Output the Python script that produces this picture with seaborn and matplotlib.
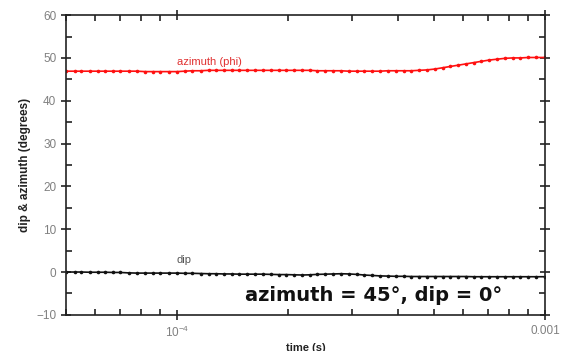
import matplotlib
matplotlib.use("Agg")
import matplotlib.pyplot as plt
import matplotlib.ticker as mticker
import seaborn as sns
import pandas as pd

time_s = [5.0e-5, 5.3e-5, 5.5e-5, 5.8e-5, 6.1e-5, 6.4e-5, 6.7e-5, 7.0e-5, 7.4e-5, 7.8e-5,
          8.2e-5, 8.6e-5, 9.0e-5, 9.5e-5,
          1.00e-4, 1.05e-4, 1.10e-4, 1.16e-4, 1.22e-4, 1.28e-4, 1.34e-4, 1.41e-4, 1.48e-4, 1.55e-4,
          1.63e-4, 1.71e-4, 1.80e-4, 1.89e-4, 1.98e-4, 2.08e-4, 2.19e-4, 2.30e-4, 2.41e-4, 2.53e-4,
          2.66e-4, 2.79e-4, 2.93e-4, 3.08e-4, 3.23e-4, 3.39e-4, 3.56e-4, 3.74e-4, 3.93e-4, 4.13e-4,
          4.33e-4, 4.55e-4, 4.78e-4, 5.02e-4, 5.27e-4, 5.53e-4, 5.81e-4, 6.10e-4, 6.40e-4, 6.72e-4,
          7.06e-4, 7.41e-4, 7.78e-4, 8.17e-4, 8.58e-4, 9.01e-4, 9.46e-4, 1.0e-3]

azimuth = [46.9, 46.9, 46.9, 46.9, 46.9, 46.9, 46.9, 46.9, 46.9, 46.9,
           46.8, 46.8, 46.8, 46.8,
           46.8, 46.9, 47.0, 47.0, 47.1, 47.1, 47.1, 47.1, 47.1, 47.1,
           47.1, 47.1, 47.1, 47.1, 47.1, 47.1, 47.1, 47.1, 47.0, 47.0,
           47.0, 47.0, 46.9, 46.9, 46.9, 46.9, 46.9, 47.0, 47.0, 47.0,
           47.0, 47.1, 47.2, 47.4, 47.7, 48.0, 48.3, 48.6, 48.9, 49.2,
           49.5, 49.7, 49.9, 50.0, 50.0, 50.1, 50.1, 50.1]

dip = [0.0, 0.0, 0.0, -0.05, -0.05, -0.05, -0.1, -0.1, -0.2, -0.25,
       -0.25, -0.25, -0.25, -0.25,
       -0.25, -0.3, -0.3, -0.35, -0.4, -0.4, -0.45, -0.45, -0.5, -0.5,
       -0.5, -0.5, -0.55, -0.6, -0.6, -0.65, -0.7, -0.65, -0.55, -0.5,
       -0.45, -0.4, -0.45, -0.55, -0.7, -0.8, -0.9, -0.95, -1.0, -1.0,
       -1.05, -1.05, -1.05, -1.05, -1.05, -1.05, -1.05, -1.05, -1.1, -1.1,
       -1.1, -1.1, -1.1, -1.1, -1.1, -1.1, -1.1, -1.1]

x_tick_vals = [1e-4, 1e-3]
x_tick_labels = ["$10^{-4}$", "0.001"]

df = pd.DataFrame({"time": time_s, "azimuth": azimuth, "dip": dip})

sns.set_style("ticks")
plt.rcParams['font.family'] = ['Liberation Sans', 'DejaVu Sans']
plt.rcParams['mathtext.fontset'] = 'custom'
plt.rcParams['mathtext.rm'] = 'Liberation Sans'

fig = plt.figure(figsize=(5.70, 3.51), dpi=100)
ax = fig.add_axes([0.1158, 0.103, 0.8402, 0.854])

sns.lineplot(data=df, x="time", y="azimuth", ax=ax, color="#ff1010", linewidth=1.2,
             marker="o", markersize=2.6, markeredgewidth=0)
sns.lineplot(data=df, x="time", y="dip", ax=ax, color="#111111", linewidth=1.2,
             marker="o", markersize=2.6, markeredgewidth=0)

ax.set_xscale("log")
ax.set_xlim(5e-5, 1e-3)
ax.set_ylim(-10, 60)

ax.xaxis.set_major_locator(mticker.FixedLocator(x_tick_vals))
ax.xaxis.set_major_formatter(mticker.FixedFormatter(x_tick_labels))
ax.xaxis.set_minor_locator(mticker.LogLocator(base=10, subs=range(2, 10)))
ax.xaxis.set_minor_formatter(mticker.NullFormatter())
ax.yaxis.set_major_locator(mticker.MultipleLocator(10))
ax.yaxis.set_minor_locator(mticker.MultipleLocator(5))

ax.tick_params(which="major", direction="inout", length=7, width=1.2,
               top=True, right=True, labelsize=8.5, labelcolor="#808080", color="#222222")
ax.tick_params(which="minor", direction="in", length=4, width=1.2,
               top=True, right=True, color="#222222")
for s in ax.spines.values():
    s.set_linewidth(1.2)
    s.set_color("#222222")

ax.set_xlabel("time (s)", fontsize=8, fontweight="bold", color="#222222", labelpad=2)
ax.set_ylabel("dip & azimuth (degrees)", fontsize=8.5, fontweight="bold", color="#222222", labelpad=4)

ax.text(1.0e-4, 48.3, "azimuth (phi)", color="#e03030", fontsize=8)
ax.text(1.0e-4, 2.0, "dip", color="#555555", fontsize=8)
ax.text(1.53e-4, -6.8, "azimuth = 45°, dip = 0°", color="#111111", fontsize=14,
        fontweight="bold", family="DejaVu Sans")

fig.savefig("out.png", dpi=100)
